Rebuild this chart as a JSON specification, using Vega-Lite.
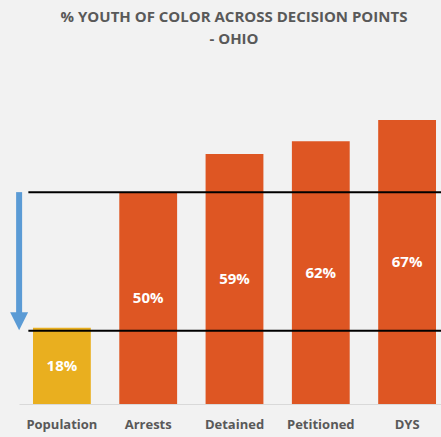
{
  "$schema": "https://vega.github.io/schema/vega-lite/v6.json",
  "width": 422,
  "height": 339,
  "autosize": "none",
  "padding": {"left": 19, "top": 65, "right": 0, "bottom": 33},
  "background": "#F2F2F2",
  "config": {"view": {"stroke": null}, "font": "Open Sans"},
  "title": {
    "text": ["% YOUTH OF COLOR ACROSS DECISION POINTS", "- OHIO"],
    "fontSize": 15,
    "font": "Open Sans",
    "fontWeight": "bold",
    "color": "#595959",
    "anchor": "middle",
    "dx": 4,
    "lineHeight": 22,
    "offset": 18
  },
  "datasets": {
    "bars": [
      {"stage": "Population", "share": 0.18},
      {"stage": "Arrests", "share": 0.50},
      {"stage": "Detained", "share": 0.59},
      {"stage": "Petitioned", "share": 0.62},
      {"stage": "DYS", "share": 0.67}
    ],
    "levels": [
      {"level": 0.50, "from": "Population", "to": "DYS"},
      {"level": 0.173, "from": "Population", "to": "DYS"}
    ],
    "arrow": [
      {"top": 0.50, "bottom": 0.212, "head": 0.195, "at": "Population"}
    ]
  },
  "resolve": {"scale": {"y": "independent"}},
  "layer": [
    {
      "data": {"name": "bars"},
      "mark": {"type": "bar"},
      "encoding": {
        "x": {
          "field": "stage", "type": "nominal",
          "scale": {"domain": ["Population", "Arrests", "Detained", "Petitioned", "DYS"], "paddingInner": 0.33, "paddingOuter": 0.11, "align": 0.737},
          "axis": {
            "title": null, "labelAngle": 0, "ticks": false,
            "domainColor": "#D9D9D9", "domainWidth": 1,
            "labelFont": "Open Sans", "labelFontWeight": "bold", "labelFontSize": 13,
            "labelColor": "#595959", "labelPadding": 14
          }
        },
        "y": {
          "field": "share", "type": "quantitative",
          "scale": {"domain": [0, 0.8], "nice": false},
          "axis": null
        },
        "color": {
          "field": "stage", "type": "nominal", "legend": null,
          "scale": {
            "domain": ["Population", "Arrests", "Detained", "Petitioned", "DYS"],
            "range": ["#E9AF1F", "#DE5623", "#DE5623", "#DE5623", "#DE5623"]
          }
        }
      }
    },
    {
      "data": {"name": "bars"},
      "mark": {"type": "text", "color": "white", "font": "Open Sans", "fontWeight": "bold", "fontSize": 15, "baseline": "middle"},
      "encoding": {
        "x": {"field": "stage", "type": "nominal"},
        "y": {"field": "share", "type": "quantitative", "scale": {"domain": [0, 1.6], "nice": false}, "axis": null},
        "text": {"field": "share", "format": ".0%"}
      }
    },
    {
      "data": {"name": "levels"},
      "mark": {"type": "rule", "color": "black", "strokeWidth": 2},
      "encoding": {
        "x": {"field": "from", "type": "nominal", "bandPosition": -0.08},
        "x2": {"field": "to", "bandPosition": 1.1},
        "y": {"field": "level", "type": "quantitative", "scale": {"domain": [0, 0.8], "nice": false}, "axis": null}
      }
    },
    {
      "data": {"name": "arrow"},
      "mark": {"type": "rule", "color": "#5B9BD5", "strokeWidth": 6},
      "encoding": {
        "x": {"field": "at", "type": "nominal", "bandPosition": -0.24},
        "y": {"field": "top", "type": "quantitative", "scale": {"domain": [0, 0.8], "nice": false}, "axis": null},
        "y2": {"field": "bottom"}
      }
    },
    {
      "data": {"name": "arrow"},
      "mark": {"type": "point", "filled": true, "color": "#5B9BD5", "opacity": 1, "shape": "M-1,-1L1,-1L0,1Z", "size": 324},
      "encoding": {
        "x": {"field": "at", "type": "nominal", "bandPosition": -0.24},
        "y": {"field": "head", "type": "quantitative", "scale": {"domain": [0, 0.8], "nice": false}, "axis": null}
      }
    }
  ]
}
